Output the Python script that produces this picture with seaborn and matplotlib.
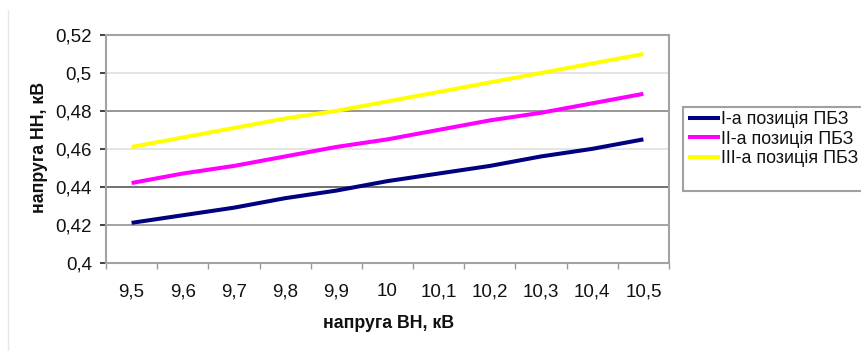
import numpy as np
import pandas as pd
import matplotlib
matplotlib.use("Agg")
import matplotlib.pyplot as plt
from matplotlib.patches import Rectangle
from matplotlib.lines import Line2D
from matplotlib.ticker import FixedLocator, FuncFormatter
import seaborn as sns

# Input voltage (HV side), kV
hv_voltage = [9.5, 9.6, 9.7, 9.8, 9.9, 10.0, 10.1, 10.2, 10.3, 10.4, 10.5]

# Output voltage (LV side), kV, for each tap-changer position
pos_1 = [0.421, 0.425, 0.429, 0.434, 0.438, 0.443, 0.447, 0.451, 0.456, 0.460, 0.465]
pos_2 = [0.442, 0.447, 0.451, 0.456, 0.461, 0.465, 0.470, 0.475, 0.479, 0.484, 0.489]
pos_3 = [0.461, 0.466, 0.471, 0.476, 0.480, 0.485, 0.490, 0.495, 0.500, 0.505, 0.510]

series_names = ["І-а позиція ПБЗ", "ІІ-а позиція ПБЗ", "ІІІ-а позиція ПБЗ"]
series_colors = ["#000080", "#ff00ff", "#ffff00"]

y_ticks = [0.40, 0.42, 0.44, 0.46, 0.48, 0.50, 0.52]

x_title = "напруга ВН, кВ"
y_title = "напруга НН, кВ"

df = pd.concat(
    [pd.DataFrame({"hv": hv_voltage, "lv": vals, "series": name})
     for name, vals in zip(series_names, [pos_1, pos_2, pos_3])],
    ignore_index=True,
)

sns.set_theme(style="white")
plt.rcParams["font.family"] = ["Liberation Sans", "DejaVu Sans"]

W, H = 861, 351
fig = plt.figure(figsize=(W / 100, H / 100), dpi=100)
fig.patch.set_facecolor("white")

def fx(px):
    return px / W

def fy(py):
    return 1 - py / H

ax = fig.add_axes([fx(106), fy(262.7), fx(669) - fx(106), fy(35) - fy(262.7)])
ax.set_facecolor("white")

sns.lineplot(data=df, x="hv", y="lv", hue="series", palette=series_colors,
             hue_order=series_names, linewidth=2.9, legend=False, ax=ax,
             solid_capstyle="butt", zorder=3)

step = 0.1
ax.set_xlim(hv_voltage[0] - step / 2, hv_voltage[-1] + step / 2)
ax.set_ylim(y_ticks[0], y_ticks[-1])

# horizontal gridlines, alternating shade
grid_colors = {0.42: "#8a8a8a", 0.44: "#4a4a4a", 0.46: "#dedede",
               0.48: "#7a7a7a", 0.50: "#dedede"}
for yv, c in grid_colors.items():
    ax.axhline(yv, color=c, lw=1.1, zorder=1)

ax.yaxis.set_major_locator(FixedLocator(y_ticks))
ax.yaxis.set_major_formatter(FuncFormatter(lambda v, p: f"{v:g}".replace(".", ",")))
ax.xaxis.set_major_locator(FixedLocator(hv_voltage))
ax.xaxis.set_major_formatter(FuncFormatter(lambda v, p: f"{v:g}".replace(".", ",")))
bounds = [hv_voltage[0] - step / 2 + step * i for i in range(len(hv_voltage) + 1)]
ax.xaxis.set_minor_locator(FixedLocator(bounds))

ax.tick_params(axis="x", which="major", length=0, pad=24.3, labelsize=13.5, colors="#111111")
ax.tick_params(axis="x", which="minor", length=4.2, width=1.0, color="#9a9a9a", bottom=True)
ax.tick_params(axis="y", which="major", length=4.2, width=1.1, pad=6, labelsize=13.5,
               colors="#111111", left=True)
for lbl in ax.get_xticklabels():
    lbl.set_verticalalignment("baseline")
for t in ax.yaxis.get_major_ticks():
    v = round(t.get_loc(), 2)
    t.tick1line.set_color(grid_colors.get(v, "#a0a0a0"))

for side in ["top", "right", "bottom", "left"]:
    ax.spines[side].set_visible(True)
    ax.spines[side].set_color("#a3a3a3")
    ax.spines[side].set_linewidth(1.5)

ax.set_xlabel("")
ax.set_ylabel("")
fig.text(fx(388.5), fy(323), x_title, ha="center", va="center",
         fontsize=12.8, fontweight="bold", color="#111111")
fig.text(fx(39.5), fy(147), y_title, ha="center", va="center", rotation=90,
         fontsize=12.8, fontweight="bold", color="#111111")

# legend frame and entries
fig.add_artist(Rectangle((fx(683), fy(191)), fx(880) - fx(683), fy(107) - fy(191),
                         transform=fig.transFigure, facecolor="white",
                         edgecolor="#a0a0a0", lw=1.5, zorder=5))
handles = [Line2D([], [], color=c, lw=2.9, solid_capstyle="butt") for c in series_colors]
leg = fig.legend(handles, series_names, loc="center left",
                 bbox_to_anchor=(fx(688), fy(139)), frameon=False, borderpad=0,
                 borderaxespad=0, handlelength=1.78, handletextpad=0.06,
                 labelspacing=0.14, fontsize=12.9)
leg.set_zorder(6)
for txt in leg.get_texts():
    txt.set_color("#111111")

# faint chart-area border on the left
fig.add_artist(Line2D([fx(7.5), fx(7.5)], [fy(10), fy(351)], transform=fig.transFigure,
                      color="#e6e6e6", lw=1.0))

fig.savefig("out.png", dpi=100, facecolor="white")
